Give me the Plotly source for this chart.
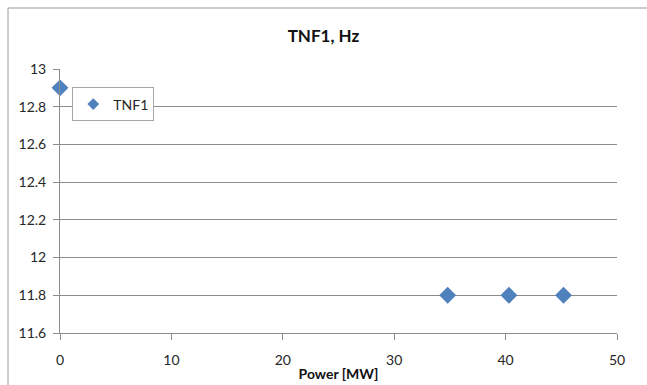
import plotly.graph_objects as go

# TNF1 frequency measured against unit power
power_mw = [0, 34.8, 40.3, 45.2]
tnf1_hz = [12.9, 11.8, 11.8, 11.8]

x_ticks = [0, 10, 20, 30, 40, 50]
y_ticks = [11.6, 11.8, 12, 12.2, 12.4, 12.6, 12.8, 13]
y_tick_text = ["11.6", "11.8", "12", "12.2", "12.4", "12.6", "12.8", "13"]

blue = "#4F81BD"
grid = "#8C8C8C"
font_family = "Lato, Liberation Sans, Arial, sans-serif"

fig = go.Figure()
fig.add_trace(go.Scatter(
    x=power_mw, y=tnf1_hz, mode="markers", name="TNF1",
    marker=dict(symbol="diamond", size=13, color=blue),
    cliponaxis=False, showlegend=False, legendgroup="tnf1",
))
# legend entry with the smaller key glyph
fig.add_trace(go.Scatter(
    x=[None], y=[None], mode="markers", name="TNF1",
    marker=dict(symbol="diamond", size=9, color=blue),
    legendgroup="tnf1",
))

fig.update_layout(
    width=647, height=385,
    margin=dict(l=60, r=30, t=69, b=52),
    paper_bgcolor="white", plot_bgcolor="white",
    font=dict(family=font_family, size=14, color="#262626"),
    title=dict(text="<b>TNF1, Hz</b>", x=0.5, xref="container", xanchor="center",
               y=1 - 36 / 385, yanchor="middle",
               font=dict(size=17, color="#111111")),
    showlegend=True,
    legend=dict(x=0.022, y=0.93, xanchor="left", yanchor="top",
                bgcolor="white", bordercolor="#A6A6A6", borderwidth=1,
                font=dict(size=14, color="#262626"),
                itemwidth=30, tracegroupgap=0),
    shapes=[
        # chart frame: left and top edges
        dict(type="line", xref="paper", yref="paper",
             x0=(8 - 60) / 557, x1=(8 - 60) / 557, y0=-0.3, y1=(333 - 8) / 264,
             line=dict(color="#9A9A9A", width=1)),
        dict(type="line", xref="paper", yref="paper",
             x0=(8 - 60) / 557, x1=1.1, y0=(333 - 8) / 264, y1=(333 - 8) / 264,
             line=dict(color="#9A9A9A", width=1)),
    ],
)

fig.update_xaxes(
    range=[0, 50], tickvals=x_ticks, showgrid=False, zeroline=False,
    showline=True, linecolor=grid, linewidth=1,
    ticks="outside", ticklen=6, tickcolor=grid,
    tickfont=dict(size=14), ticklabelstandoff=8, automargin=False,
    title=dict(text="<b>Power [MW]</b>", standoff=2, font=dict(size=14, color="#111111")),
)
fig.update_yaxes(
    range=[11.6, 13], tickvals=y_ticks, ticktext=y_tick_text,
    showgrid=True, gridcolor=grid, gridwidth=1, zeroline=False,
    showline=True, linecolor=grid, linewidth=1,
    ticks="outside", ticklen=6, tickcolor=grid,
    tickfont=dict(size=14), ticklabelstandoff=4, automargin=False,
)

fig.write_html("out.html")
